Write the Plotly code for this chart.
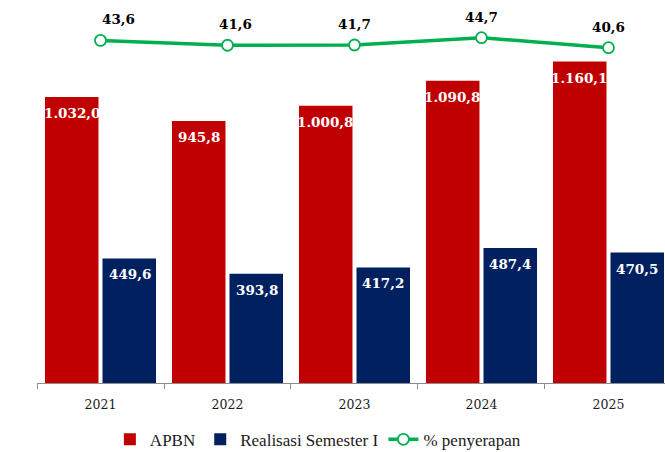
import plotly.graph_objects as go

years = ["2021", "2022", "2023", "2024", "2025"]
apbn = [1032.0, 945.8, 1000.8, 1090.8, 1160.1]
realisasi = [449.6, 393.8, 417.2, 487.4, 470.5]
penyerapan = [43.6, 41.6, 41.7, 44.7, 40.6]

def fmt(v):
    s = f"{v:,.1f}"
    return s.replace(",", "X").replace(".", ",").replace("X", ".")

RED = "#C00000"
NAVY = "#002060"
GREEN = "#00B050"
LBL = dict(family="DejaVu Serif", size=13.5, color="white")

fig = go.Figure()
fig.add_trace(go.Bar(
    x=years, y=apbn, name="APBN", marker=dict(color=RED, line=dict(width=0)),
))
fig.add_trace(go.Bar(
    x=years, y=realisasi, name="Realisasi Semester I", marker=dict(color=NAVY, line=dict(width=0)),
))
fig.add_trace(go.Scatter(
    x=years, y=penyerapan, name="% penyerapan", yaxis="y2", mode="lines+markers",
    line=dict(color=GREEN, width=3.5),
    marker=dict(size=11, color="white", line=dict(color=GREEN, width=1.8)),
))

# bar value labels (inside, near top of each bar)
for i, (a, r) in enumerate(zip(apbn, realisasi)):
    fig.add_annotation(x=i, y=a, xref="x", yref="y", text=f"<b>{fmt(a)}</b>",
                       showarrow=False, xshift=-29, yshift=-16, font=LBL)
    fig.add_annotation(x=i, y=r, xref="x", yref="y", text=f"<b>{fmt(r)}</b>",
                       showarrow=False, xshift=29, yshift=-16, font=LBL)

# line labels
label_xshift = [18, 8, 0, 0, 0]
for i, (v, dx) in enumerate(zip(penyerapan, label_xshift)):
    fig.add_annotation(
        x=i, y=v, xref="x", yref="y2", text=f"<b>{fmt(v)}</b>",
        showarrow=False, yshift=21, xshift=dx,
        font=dict(family="DejaVu Serif", size=13.5, color="black"),
    )

fig.update_layout(
    width=665, height=452,
    margin=dict(l=37, r=0, t=10, b=69, autoexpand=False),
    paper_bgcolor="white", plot_bgcolor="white",
    barmode="group", bargap=0.094, bargroupgap=0.07,
    xaxis=dict(
        type="category", range=[-0.5, 4.445], automargin=False,
        showline=True, linecolor="#8c8c8c", linewidth=1,
        ticks="outside", tickson="boundaries", ticklen=5, tickcolor="#8c8c8c",
        ticklabelstandoff=10,
        tickfont=dict(family="DejaVu Serif", size=12.5, color="#1a1a1a"),
        showgrid=False,
    ),
    yaxis=dict(range=[0, 1346], visible=False, showgrid=False),
    yaxis2=dict(range=[-96.8, 56.05], overlaying="y", side="right", visible=False, showgrid=False),
    legend=dict(
        orientation="h", xref="container", yref="container",
        x=0.478, xanchor="center", y=0.027, yanchor="middle",
        font=dict(family="Liberation Serif", size=17, color="#1a1a1a"),
        traceorder="normal", itemwidth=30,
    ),
    showlegend=True,
)

fig.write_html("out.html", config={"displayModeBar": False},
               post_script="document.body.style.margin='0';")
